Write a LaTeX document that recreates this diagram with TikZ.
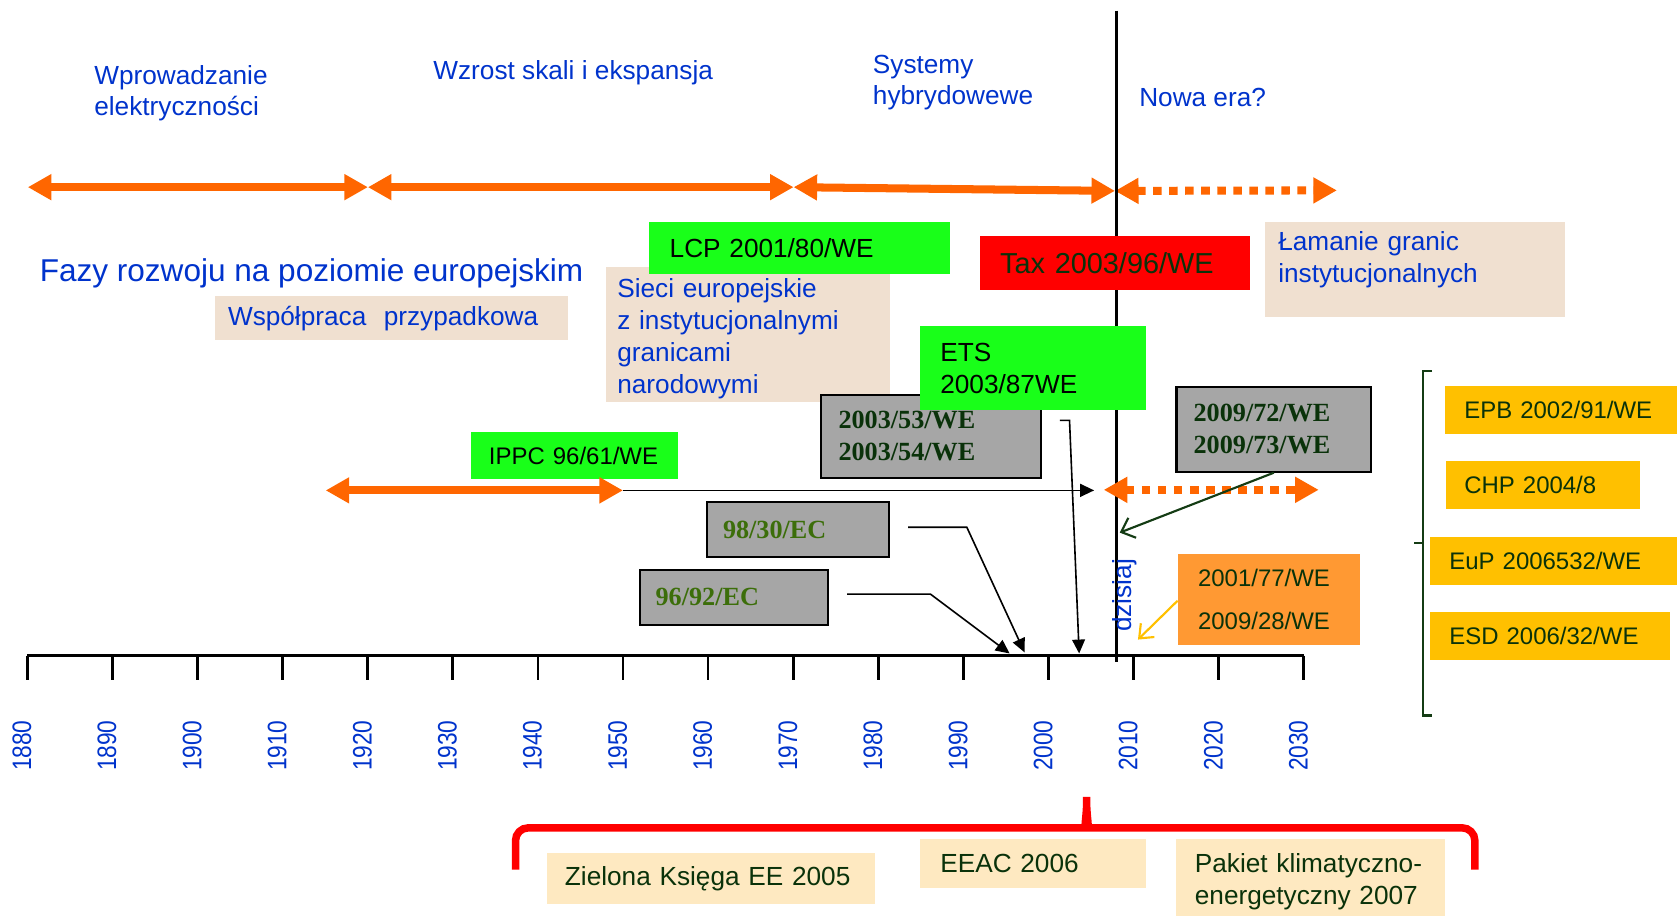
\documentclass[tikz,border=0pt]{standalone}
\usepackage{fontspec}
\setmainfont{Liberation Sans}
\newfontfamily\timesfont{Liberation Serif}
\usepackage{xcolor}
\usepackage{graphicx}
\usepackage{tikz}
\usetikzlibrary{arrows.meta,positioning}

\definecolor{txtblue}{RGB}{0,51,204}
\definecolor{txtgreen}{RGB}{10,50,10}
\definecolor{txtolive}{RGB}{60,110,10}
\definecolor{beigefill}{RGB}{240,224,208}
\definecolor{creamfill}{RGB}{254,233,193}
\definecolor{limefill}{RGB}{25,255,25}
\definecolor{greyfill}{RGB}{166,166,166}
\definecolor{orangefill}{RGB}{255,153,51}
\definecolor{goldfill}{RGB}{255,192,0}
\definecolor{arrorange}{RGB}{255,102,0}
\definecolor{bracegreen}{RGB}{20,60,20}

\newcommand{\fs}[2]{\fontsize{#1}{#2}\selectfont}

\begin{document}
\begin{tikzpicture}[
    x=1pt, y=-1pt,
    box/.style={rectangle, anchor=north west, inner ysep=0pt, align=left, font={\fs{24.5}{30}}},
    beigebox/.style={box, fill=beigefill, text=txtblue},
    limebox/.style={box, fill=limefill, text=black},
    greybox/.style={box, fill=greyfill, draw=black, line width=2pt, font={\timesfont\bfseries\fs{24.5}{30}}, text=txtgreen},
    goldbox/.style={box, fill=goldfill, text=txtgreen, font={\fs{22.4}{30}}},
    creambox/.style={box, fill=creamfill, text=txtgreen},
    phase/.style={anchor=west, align=left, text=txtblue, inner sep=0pt, font={\fs{24.5}{29}}},
    year/.style={rotate=90, anchor=west, inner sep=0pt, text=txtblue, font={\fs{25}{25}}},
    period/.style={line width=7.5pt, draw=arrorange, {Triangle[length=22pt,width=23pt]}-{Triangle[length=22pt,width=23pt]}},
    future/.style={period, dash pattern=on 8pt off 7pt},
    link/.style={line width=1.5pt, -{Triangle[length=13pt,width=12pt]}},
    axis/.style={line width=2.5pt}
]
\useasboundingbox (0,0) rectangle (1568,856);

% Phases
\node[phase] (intro) at (88,87) {Wprowadzanie\\elektryczności};
\node[phase] (growth) at (405,68) {Wzrost skali i ekspansja};
\node[phase] (hybrid) at (816,77) {Systemy\\hybrydowewe};
\node[phase] (newera) at (1065,91) {Nowa era?};

\coordinate (ph0) at (26,175);
\coordinate (ph1) at (344,175);
\coordinate (ph2) at (742,175);
\coordinate (ph3) at (1042.5,178.5);
\coordinate (ph4) at (1250,178);
\draw[period] (ph0) -- (ph1);
\draw[period] (ph1) -- (ph2);
\draw[period] (ph2) -- (ph3);
\draw[future] (ph3) -- (ph4);

% Today line
\coordinate (nowTop) at (1044,10);
\coordinate (nowBot) at (1044,619);
\draw[line width=3.5pt] (nowTop) -- (nowBot);

% Axis
\foreach \yy [count=\i from 0] in {1880,1890,...,2030} {
  \coordinate (t\yy) at (25.5+79.57*\i,613);
  \draw[axis] (t\yy) -- ++(0,23);
  \node[year] (y\yy) at (20.5+79.57*\i,721) {\scalebox{0.85}[1]{\yy}};
}
\draw[axis] (t1880) -- (t2030);

% Title and boxes
\node[phase, font={\fs{29.5}{34}}] (fazy) at (37,256) {Fazy rozwoju na poziomie europejskim};
\node[beigebox, text width=306pt, inner xsep=12pt, minimum height=41pt] (wsp) at (201,277) {Współpraca\ \ przypadkowa};
\node[beigebox, text width=244pt, inner xsep=11pt, minimum height=127pt, text height=26pt] (sieci) at (566,249) {Sieci europejskie\\z instytucjonalnymi\\granicami\\narodowymi};
\node[limebox, text width=243pt, inner xsep=19pt, minimum height=49pt] (lcp) at (607,207) {LCP 2001/80/WE};
\node[box, fill=red, text=txtgreen, font={\fs{27}{30}}, text width=215pt, inner xsep=19pt, minimum height=51pt] (tax) at (916,220) {Tax 2003/96/WE};
\node[beigebox, text width=256pt, inner xsep=12pt, minimum height=89pt, text depth=52pt] (lam) at (1183,207) {Łamanie granic\\instytucjonalnych};

\node[greybox, text width=173pt, inner xsep=16pt, minimum height=78pt] (g2003) at (767,368) {2003/53/WE\\2003/54/WE};
\node[limebox, text width=173pt, inner xsep=19pt, minimum height=78pt] (ets) at (860,305) {ETS\\2003/87WE};
\node[limebox, font={\fs{22.4}{30}}, text width=166pt, inner xsep=14pt, minimum height=44pt] (ippc) at (440,404) {\hspace*{3pt}IPPC 96/61/WE};
\node[greybox, text width=150pt, inner xsep=16pt, minimum height=79pt] (g2009) at (1099,361) {2009/72/WE\\2009/73/WE};
\node[greybox, text=txtolive, text width=140pt, inner xsep=15pt, minimum height=52pt] (g9830) at (660,468) {98/30/EC};
\node[greybox, text=txtolive, text width=146pt, inner xsep=15pt, minimum height=51pt] (g9692) at (597,532) {96/92/EC};
\node[box, fill=orangefill, text=txtgreen, font={\fs{22.4}{40}}, text width=132pt, inner xsep=19pt, minimum height=85pt] (o2001) at (1101,518) {2001/77/WE\\2009/28/WE};
\node[year, font={\fs{24.5}{25}}] (today) at (1052,591) {dzisiaj};

% Directives on the right
\node[goldbox, text width=240pt, inner xsep=18pt, minimum height=45pt] (epb) at (1351,361) {EPB 2002/91/WE};
\node[goldbox, text width=147pt, inner xsep=17pt, minimum height=45pt] (chp) at (1352,431) {CHP 2004/8};
\node[goldbox, text width=255pt, inner xsep=18pt, minimum height=45pt] (eup) at (1337,502) {EuP 2006532/WE};
\node[goldbox, text width=188pt, inner xsep=18pt, minimum height=45pt] (esd) at (1337,572) {ESD 2006/32/WE};
\draw[bracegreen, line width=2pt] (1339,347) -- (1330.5,347) -- (1330.5,669) -- (1339,669);
\draw[bracegreen, line width=2pt] (1330.5,508) -- (1322,508);

% IPPC and future arrows
\coordinate (ippcL) at (304.5,458.5);
\coordinate (ippcR) at (582.5,458.5);
\coordinate (ippcEnd) at (1023,458.5);
\coordinate (nextL) at (1032,458);
\coordinate (nextR) at (1233,458);
\draw[period] (ippcL) -- (ippcR);
\draw[link] (ippcR) -- (ippcEnd);
\draw[future] (nextL) -- (nextR);

% Links to the axis
\coordinate (d9692) at (944,611);
\coordinate (d9830) at (958,610);
\coordinate (d2003) at (1009,611);
\coordinate (g2009end) at (1047,498);
\coordinate (o2001end) at (1064,598);
\draw[link] ([xshift=17pt,yshift=3pt]g9692.east) -- ++(78,0) -- (d9692);
\draw[link] ([xshift=17pt,yshift=2pt]g9830.east) -- ++(55,0) -- (d9830);
\draw[link] ([xshift=17pt,yshift=15pt]g2003.east) -- ++(9,0) -- (d2003);
\draw[bracegreen, line width=2pt, -{Straight Barb[length=11pt,width=20pt]}] (g2009.south) -- (g2009end);
\draw[goldfill, line width=2pt, -{Straight Barb[length=11pt,width=18pt]}] ([yshift=-1pt]o2001.west) -- (o2001end);

% Bottom brace
\draw[red, line width=7pt, rounded corners=12pt] (482,813) |- (1004,774)
  .. controls (1013,774) and (1016,765) .. (1016,738)
  .. controls (1016,765) and (1019,774) .. (1028,774) -| (1379,813);
\node[creambox, text width=273pt, inner xsep=17pt, minimum height=48pt] (ziel) at (511,797) {Zielona Księga EE 2005};
\node[creambox, text width=173pt, inner xsep=19pt, minimum height=46pt] (eeac) at (860,784) {EEAC 2006};
\node[creambox, text width=216pt, inner xsep=18pt, minimum height=72pt, text height=26pt] (pak) at (1099,784) {Pakiet klimatyczno-\\energetyczny 2007};

\end{tikzpicture}
\end{document}
